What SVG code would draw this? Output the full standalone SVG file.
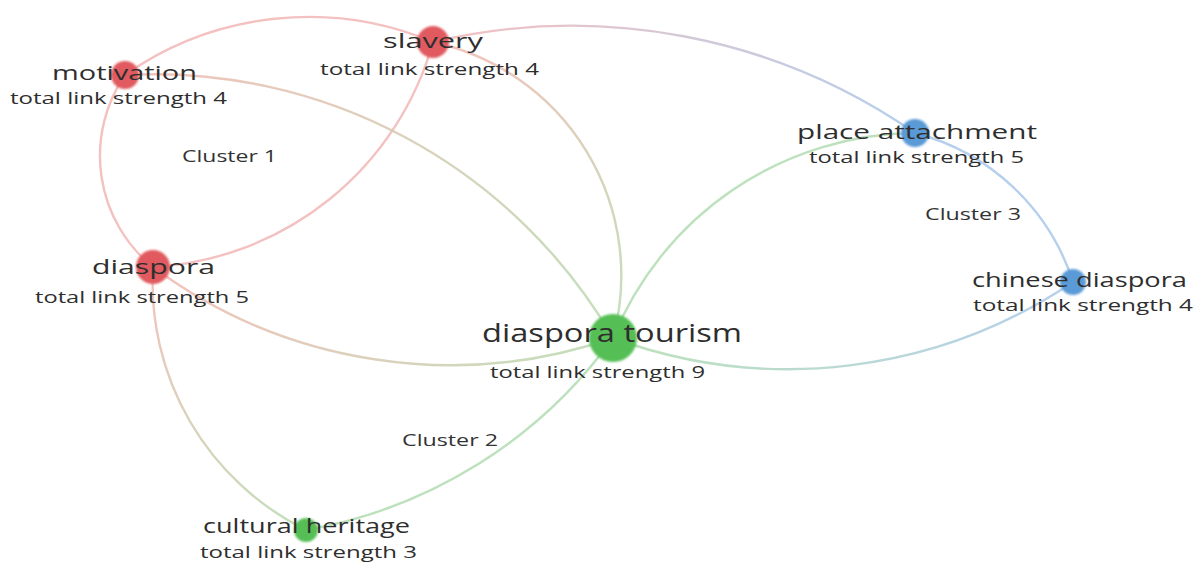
<svg xmlns="http://www.w3.org/2000/svg" width="1201" height="563" viewBox="0 0 1201 563">
<style>
.e{fill:none;stroke-width:2.4;stroke-opacity:0.85}
.r{stroke:#f2b6b6}
.g{stroke:#b2dcb0}
.b{stroke:#a9c7ea}
.lab{font-family:"Open Sans","Noto Sans",sans-serif;fill:#2e2e2e;font-size:20px}
.big{font-size:26px}
.sub{font-family:"Open Sans","Noto Sans",sans-serif;fill:#2e2e2e;font-size:17px}
.cl{font-family:"Open Sans","Noto Sans",sans-serif;fill:#333;font-size:16px}
.nr{fill:#e05a5e}
.ng{fill:#55bf55}
.nb{fill:#5a9ad6}
</style>
<defs>
<filter id="soft" x="-30%" y="-30%" width="160%" height="160%"><feGaussianBlur stdDeviation="1.2"/></filter>
<linearGradient id="gSP" gradientUnits="userSpaceOnUse" x1="433" y1="42" x2="915" y2="133"><stop offset="0" stop-color="#f2b6b6"/><stop offset="1" stop-color="#a9c7ea"/></linearGradient>
<linearGradient id="gMT" gradientUnits="userSpaceOnUse" x1="125" y1="75" x2="613" y2="338"><stop offset="0" stop-color="#f0b8b0"/><stop offset="1" stop-color="#b8dab0"/></linearGradient>
<linearGradient id="gST" gradientUnits="userSpaceOnUse" x1="433" y1="42" x2="613" y2="338"><stop offset="0" stop-color="#f0b8b0"/><stop offset="1" stop-color="#b8dab0"/></linearGradient>
<linearGradient id="gDT" gradientUnits="userSpaceOnUse" x1="153" y1="267" x2="613" y2="338"><stop offset="0" stop-color="#f0b8b0"/><stop offset="1" stop-color="#b8dab0"/></linearGradient>
<linearGradient id="gDH" gradientUnits="userSpaceOnUse" x1="153" y1="267" x2="306" y2="530"><stop offset="0" stop-color="#f0b8b0"/><stop offset="1" stop-color="#b8dab0"/></linearGradient>
<linearGradient id="gTC" gradientUnits="userSpaceOnUse" x1="613" y1="338" x2="1073" y2="282"><stop offset="0" stop-color="#b2dcb0"/><stop offset="1" stop-color="#a9c7ea"/></linearGradient>
</defs>
<rect width="1201" height="563" fill="#ffffff"/>
<g id="connectors">
<path class="e r" d="M125,75 A320,320 0 0 1 433,42"/>
<path class="e" stroke="url(#gSP)" d="M433,42 A603,603 0 0 1 915,133"/>
<path class="e r" d="M125,75 A143,143 0 0 0 153,267"/>
<path class="e r" d="M433,42 A308,308 0 0 1 153,267"/>
<path class="e" stroke="url(#gMT)" d="M125,75 A531,531 0 0 1 613,338"/>
<path class="e" stroke="url(#gST)" d="M433,42 A239,239 0 0 1 613,338"/>
<path class="e" stroke="url(#gDT)" d="M153,267 A500,500 0 0 0 613,338"/>
<path class="e" stroke="url(#gDH)" d="M153,267 A276,276 0 0 0 306,530"/>
<path class="e g" d="M306,530 A480,480 0 0 0 613,338"/>
<path class="e g" d="M613,338 A329,329 0 0 1 915,133"/>
<path class="e" stroke="url(#gTC)" d="M613,338 A509,509 0 0 0 1073,282"/>
<path class="e b" d="M915,133 A225,225 0 0 1 1073,282"/>
</g>
<g id="node-motivation">
<circle class="nr" cx="125" cy="75" r="14" filter="url(#soft)"/>
<text class="lab" x="52" y="80" textLength="145" lengthAdjust="spacingAndGlyphs">motivation</text>
<text class="sub" x="10" y="104" textLength="217" lengthAdjust="spacingAndGlyphs">total link strength 4</text>
</g>
<g id="node-slavery">
<circle class="nr" cx="433" cy="42" r="16" filter="url(#soft)"/>
<text class="lab" x="383" y="48" textLength="100" lengthAdjust="spacingAndGlyphs">slavery</text>
<text class="sub" x="320" y="75" textLength="219" lengthAdjust="spacingAndGlyphs">total link strength 4</text>
</g>
<g id="node-place-attachment">
<circle class="nb" cx="915" cy="133" r="14" filter="url(#soft)"/>
<text class="lab" x="797" y="139" textLength="240" lengthAdjust="spacingAndGlyphs">place attachment</text>
<text class="sub" x="809" y="163" textLength="215" lengthAdjust="spacingAndGlyphs">total link strength 5</text>
</g>
<g id="node-chinese-diaspora">
<circle class="nb" cx="1073" cy="282" r="13" filter="url(#soft)"/>
<text class="lab" x="972" y="287" textLength="215" lengthAdjust="spacingAndGlyphs">chinese diaspora</text>
<text class="sub" x="973" y="311" textLength="220" lengthAdjust="spacingAndGlyphs">total link strength 4</text>
</g>
<g id="node-diaspora">
<circle class="nr" cx="153" cy="267" r="17" filter="url(#soft)"/>
<text class="lab" x="92" y="274" textLength="123" lengthAdjust="spacingAndGlyphs">diaspora</text>
<text class="sub" x="35" y="303" textLength="214" lengthAdjust="spacingAndGlyphs">total link strength 5</text>
</g>
<g id="node-diaspora-tourism">
<circle class="ng" cx="613" cy="338" r="24" filter="url(#soft)"/>
<text class="lab big" x="482" y="342" textLength="260" lengthAdjust="spacingAndGlyphs">diaspora tourism</text>
<text class="sub" x="490" y="378" textLength="215" lengthAdjust="spacingAndGlyphs">total link strength 9</text>
</g>
<g id="node-cultural-heritage">
<circle class="ng" cx="306" cy="530" r="12" filter="url(#soft)"/>
<text class="lab" x="203" y="533" textLength="207" lengthAdjust="spacingAndGlyphs">cultural heritage</text>
<text class="sub" x="200" y="558" textLength="217" lengthAdjust="spacingAndGlyphs">total link strength 3</text>
</g>
<g id="cluster-labels">
<text class="cl" x="182" y="162" textLength="95" lengthAdjust="spacingAndGlyphs">Cluster 1</text>
<text class="cl" x="402" y="446" textLength="96" lengthAdjust="spacingAndGlyphs">Cluster 2</text>
<text class="cl" x="925" y="220" textLength="96" lengthAdjust="spacingAndGlyphs">Cluster 3</text>
</g>
</svg>
